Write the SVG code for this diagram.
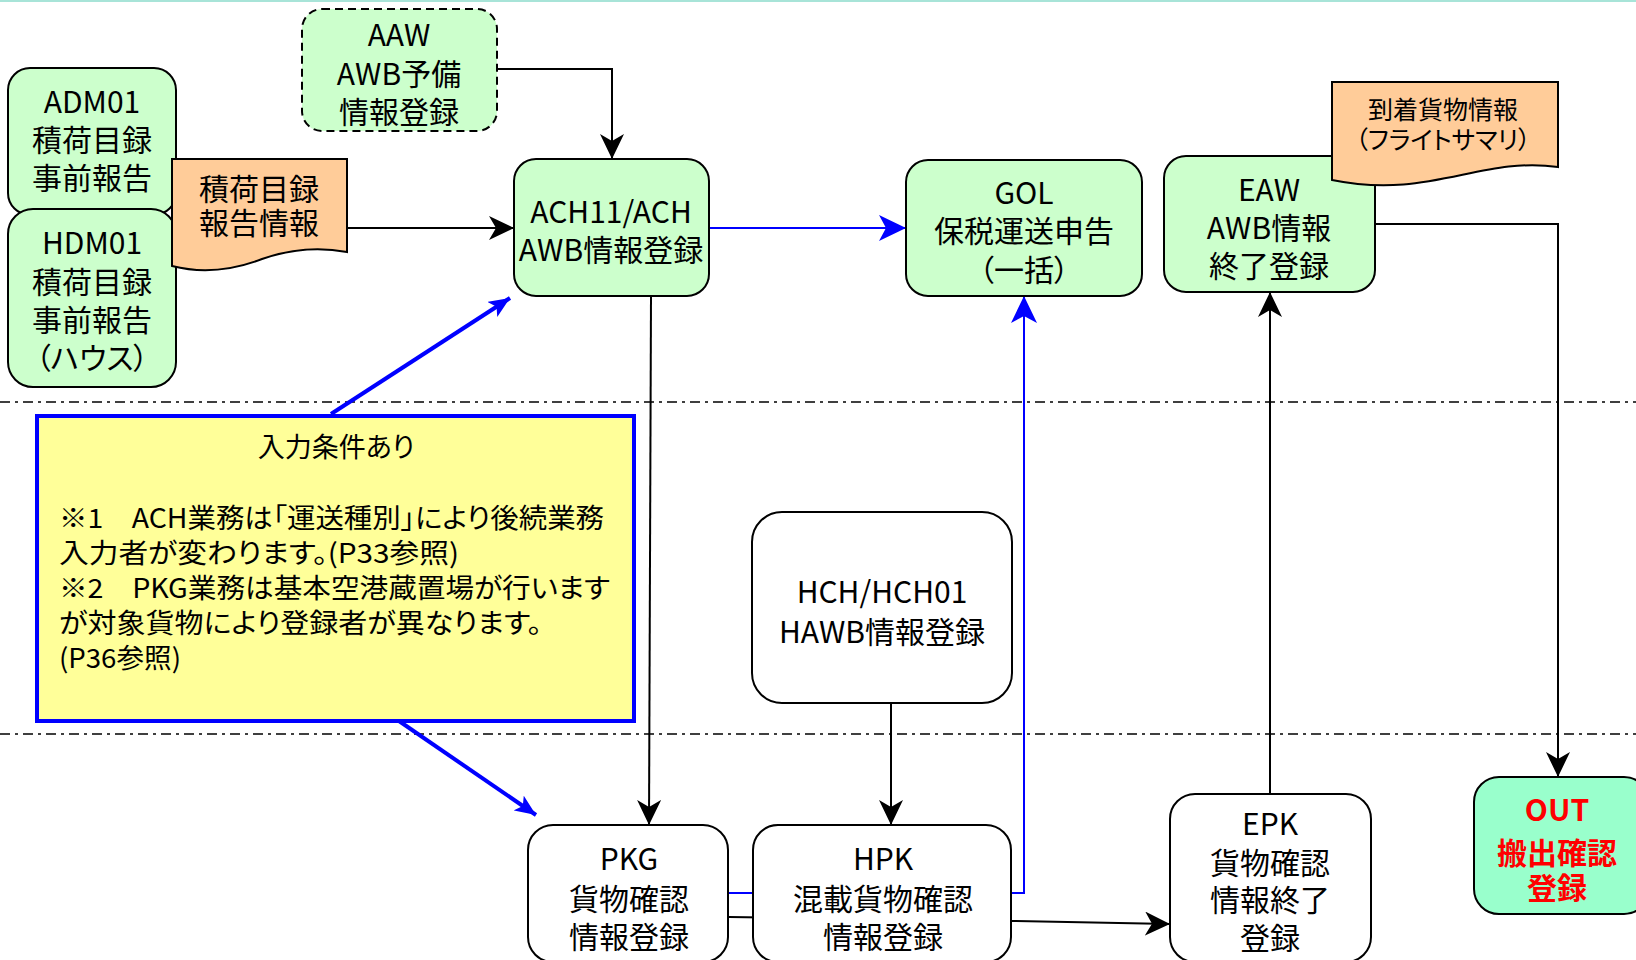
<svg xmlns="http://www.w3.org/2000/svg" width="1636" height="960" viewBox="0 0 1636 960">
<style>
text { font-family: "Noto Sans CJK JP", "Noto Sans", sans-serif; font-size: 30px; fill: #000; text-anchor: middle; font-feature-settings: "palt"; }
.node { stroke: #000; stroke-width: 2; }
.g { fill: #ccffcc; }
.w { fill: #ffffff; }
.doc { fill: #ffcc99; stroke: #000; stroke-width: 2; }
.k { fill: none; stroke: #000; stroke-width: 2; }
.b { fill: none; stroke: #0000ff; stroke-width: 2; }
.bt { fill: none; stroke: #0000ff; stroke-width: 4; }
.sep { stroke: #000; stroke-width: 1.5; stroke-dasharray: 10 5 3 5; }
.small { font-size: 25px; }
.note { font-size: 27px; text-anchor: start; }
.out { fill: #ff0000; font-weight: bold; }
</style>
<defs>
<marker id="ak" markerUnits="userSpaceOnUse" markerWidth="26" markerHeight="24" refX="25" refY="12" orient="auto"><path d="M0,0 L25,12 L0,24 L7,12 Z" fill="#000"/></marker>
<marker id="ab" markerUnits="userSpaceOnUse" markerWidth="28" markerHeight="26" refX="27" refY="13" orient="auto"><path d="M0,0 L27,13 L0,26 L7,13 Z" fill="#0000ff"/></marker>
<marker id="abs" markerUnits="userSpaceOnUse" markerWidth="22" markerHeight="18" refX="21" refY="9" orient="auto"><path d="M0,0 L21,9 L0,18 L5,9 Z" fill="#0000ff"/></marker>
</defs>
<rect x="0" y="0" width="1636" height="960" fill="#ffffff"/>
<line x1="0" y1="1" x2="1636" y2="1" stroke="#a8e4d8" stroke-width="2"/>
<g id="separators">
<line class="sep" x1="0" y1="402" x2="1636" y2="402"/>
<line class="sep" x1="0" y1="734" x2="1636" y2="734"/>
</g>
<g id="connectors">
<path class="k" d="M497,69 H612 V159" marker-end="url(#ak)"/>
<path class="k" d="M347,228 H514" marker-end="url(#ak)"/>
<path class="b" d="M709,228 H906" marker-end="url(#ab)"/>
<path class="k" d="M651,296 L649,825" marker-end="url(#ak)"/>
<path class="k" d="M891,704 V825" marker-end="url(#ak)"/>
<path class="b" d="M729,893 H1024 V296" marker-end="url(#ab)"/>
<path class="k" d="M729,917 L1012,921 L1170,924" marker-end="url(#ak)"/>
<path class="k" d="M1270,794 V292" marker-end="url(#ak)"/>
<path class="k" d="M1375,224 H1558 V777" marker-end="url(#ak)"/>
<path class="bt" d="M331,414 L510,298" marker-end="url(#abs)"/>
<path class="bt" d="M399,721 L536,815" marker-end="url(#abs)"/>
</g>
<g id="ADM01">
<rect class="node g" x="8" y="68" width="168" height="147" rx="22"/>
<text x="92" y="113">ADM01</text>
<text x="92" y="151">積荷目録</text>
<text x="92" y="189">事前報告</text>
</g>
<g id="HDM01">
<rect class="node g" x="8" y="209" width="168" height="178" rx="25"/>
<text x="92" y="254">HDM01</text>
<text x="92" y="293">積荷目録</text>
<text x="92" y="331">事前報告</text>
<text x="92" y="369">（ハウス）</text>
</g>
<g id="doc-manifest">
<path class="doc" d="M172,159 H347 V252 Q305,244 262,259 Q215,277 172,266 Z"/>
<text x="259" y="200">積荷目録</text>
<text x="259" y="234">報告情報</text>
</g>
<g id="AAW">
<rect class="node g" x="302" y="9" width="195" height="122" rx="20" stroke-dasharray="8 5"/>
<text x="399" y="46">AAW</text>
<text x="399" y="85">AWB予備</text>
<text x="399" y="123">情報登録</text>
</g>
<g id="ACH">
<rect class="node g" x="514" y="159" width="195" height="137" rx="22"/>
<text x="611" y="223">ACH11/ACH</text>
<text x="611" y="261">AWB情報登録</text>
</g>
<g id="GOL">
<rect class="node g" x="906" y="160" width="236" height="136" rx="22"/>
<text x="1024" y="204">GOL</text>
<text x="1024" y="242">保税運送申告</text>
<text x="1024" y="281">（一括）</text>
</g>
<g id="EAW">
<rect class="node g" x="1164" y="156" width="211" height="136" rx="22"/>
<text x="1269" y="201">EAW</text>
<text x="1269" y="239">AWB情報</text>
<text x="1269" y="277">終了登録</text>
</g>
<g id="doc-arrival">
<path class="doc" d="M1332,82 H1558 V167 C1480,156 1430,200 1332,180 Z"/>
<text class="small" x="1443" y="119">到着貨物情報</text>
<text class="small" x="1443" y="149">（フライトサマリ）</text>
</g>
<g id="note">
<rect x="37" y="416" width="597" height="305" fill="#ffff99" stroke="#0000ff" stroke-width="4"/>
<text x="336" y="457" style="font-size:27px">入力条件あり</text>
<text class="note" x="59" y="528" textLength="545" lengthAdjust="spacingAndGlyphs">※1　ACH業務は「運送種別」により後続業務</text>
<text class="note" x="59" y="563" textLength="400" lengthAdjust="spacingAndGlyphs">入力者が変わります。(P33参照)</text>
<text class="note" x="59" y="598" textLength="551" lengthAdjust="spacingAndGlyphs">※2　PKG業務は基本空港蔵置場が行います</text>
<text class="note" x="59" y="633" textLength="483" lengthAdjust="spacingAndGlyphs">が対象貨物により登録者が異なります。</text>
<text class="note" x="59" y="668" textLength="122" lengthAdjust="spacingAndGlyphs">(P36参照)</text>
</g>
<g id="HCH">
<rect class="node w" x="752" y="512" width="260" height="191" rx="30"/>
<text x="882" y="603">HCH/HCH01</text>
<text x="882" y="643">HAWB情報登録</text>
</g>
<g id="PKG">
<rect class="node w" x="528" y="825" width="200" height="137" rx="25"/>
<text x="629" y="870">PKG</text>
<text x="629" y="910">貨物確認</text>
<text x="629" y="948">情報登録</text>
</g>
<g id="HPK">
<rect class="node w" x="753" y="825" width="258" height="137" rx="25"/>
<text x="883" y="870">HPK</text>
<text x="883" y="910">混載貨物確認</text>
<text x="883" y="948">情報登録</text>
</g>
<g id="EPK">
<rect class="node w" x="1170" y="794" width="201" height="168" rx="25"/>
<text x="1270" y="835">EPK</text>
<text x="1270" y="874">貨物確認</text>
<text x="1270" y="911">情報終了</text>
<text x="1270" y="949">登録</text>
</g>
<g id="OUT">
<rect class="node" x="1474" y="777" width="175" height="137" rx="25" fill="#99ffcc"/>
<text class="out" x="1557" y="821">OUT</text>
<text class="out" x="1557" y="864">搬出確認</text>
<text class="out" x="1557" y="899">登録</text>
</g>
</svg>
